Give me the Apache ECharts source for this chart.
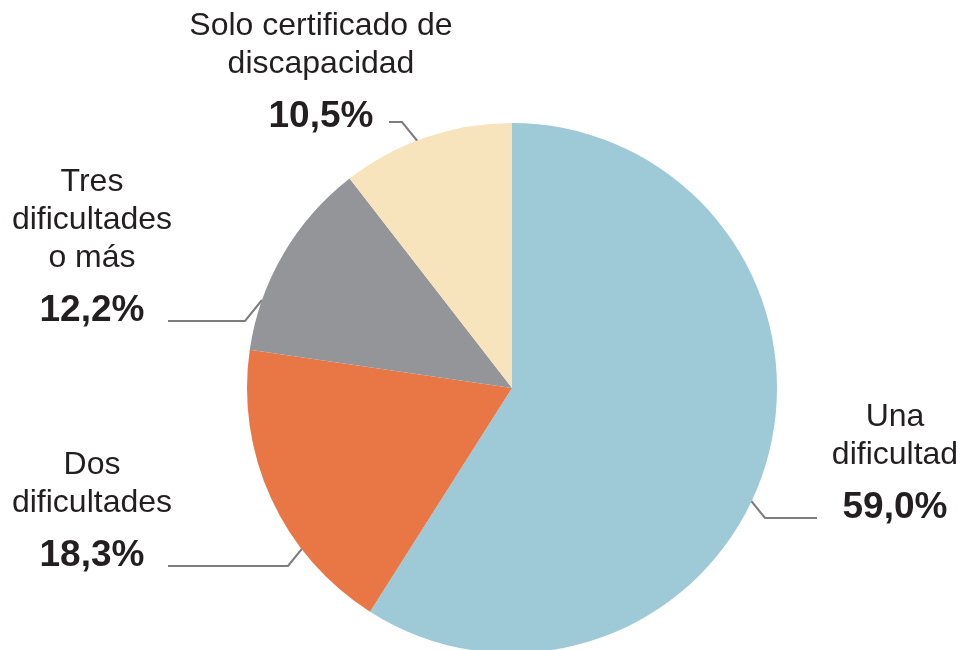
<!DOCTYPE html>
<html lang="es">
<head>
<meta charset="utf-8">
<script src="https://cdn.jsdelivr.net/npm/echarts@6/dist/echarts.min.js"></script>
<style>
  html, body { margin: 0; padding: 0; background: #fff; }
  #main { width: 962px; height: 650px; }
</style>
</head>
<body>
<div id="main"></div>
<script>
// datos
var categorias = ['Una dificultad', 'Dos dificultades', 'Tres dificultades o más', 'Solo certificado de discapacidad'];
var valores = [59.0, 18.3, 12.2, 10.5];
var nombres = [['Una', 'dificultad'], ['Dos', 'dificultades'], ['Tres', 'dificultades', 'o más'], ['Solo certificado de', 'discapacidad']];
var colores = ['#9ecad7', '#e97645', '#939598', '#f8e4bc'];

// rótulos: centro x, borde superior, altura de la línea guía, fin, codo y tramo diagonal
var rotulos = [
    {x: 895, y: 398, linea: 518, fin: 817, codo: 765, dx: -17, dy: -21},
    {x: 92,  y: 446, linea: 566, fin: 168, codo: 288, dx: 17,  dy: -21},
    {x: 92,  y: 163, linea: 321, fin: 168, codo: 245, dx: 17,  dy: -21},
    {x: 321, y: 7,   linea: 122, fin: 389, codo: 402, dx: 17,  dy: 21}
];

var texto = '#231f20';
var fuente = '"Liberation Sans", Arial, Helvetica, sans-serif';

function pct(v) {
    return v.toFixed(1).replace('.', ',') + '%';
}

var datos = [];
for (var i = 0; i < categorias.length; i++) {
    datos.push({name: categorias[i], value: valores[i], itemStyle: {color: colores[i]}});
}

var chart = echarts.init(document.getElementById('main'), null, {renderer: 'canvas'});
chart.setOption({
    animation: false,
    series: [{
        type: 'pie',
        center: [512, 388],
        radius: 265,
        startAngle: 90,
        clockwise: true,
        avoidLabelOverlap: false,
        emphasis: {disabled: true},
        data: datos,
        label: {
            show: true,
            position: 'outside',
            formatter: function (p) {
                var lineas = nombres[p.dataIndex].map(function (s) { return '{n|' + s + '}'; });
                return lineas.join('\n') + '\n{p|' + pct(p.value) + '}';
            },
            rich: {
                n: {fontSize: 32, lineHeight: 38, color: texto, fontFamily: fuente},
                p: {fontSize: 37, lineHeight: 68, fontWeight: 'bold', color: texto, fontFamily: fuente}
            }
        },
        labelLine: {
            show: true,
            smooth: false,
            lineStyle: {color: '#7d7d7d', width: 2}
        },
        labelLayout: function (params) {
            var r = rotulos[params.dataIndex];
            return {
                x: r.x,
                y: r.y,
                align: 'center',
                verticalAlign: 'top',
                labelLinePoints: [
                    [r.codo + r.dx, r.linea + r.dy],
                    [r.codo, r.linea],
                    [r.fin, r.linea]
                ]
            };
        }
    }]
});
</script>
</body>
</html>
